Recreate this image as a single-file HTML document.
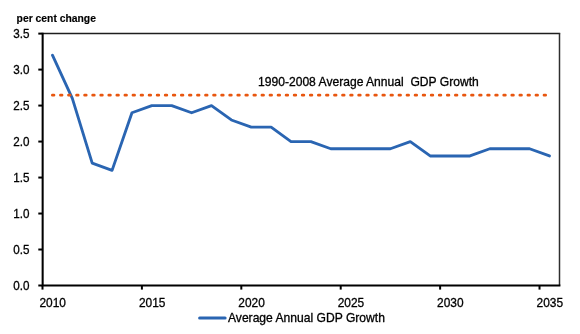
<!DOCTYPE html>
<html><head><meta charset="utf-8"><style>
html,body{margin:0;padding:0;background:#fff;width:580px;height:334px;overflow:hidden}
svg{display:block;will-change:transform}
text{font-family:"Liberation Sans", sans-serif;fill:#000;stroke:#000;stroke-width:0.3px}
</style></head><body>
<svg width="580" height="334" viewBox="0 0 580 334">
<rect width="580" height="334" fill="#fff"/>
<line x1="42.5" y1="33.5" x2="560.2" y2="33.5" stroke="#1e1e1e" stroke-width="1.35"/>
<line x1="559.5" y1="33.2" x2="559.5" y2="285.5" stroke="#2e2e2e" stroke-width="1.5"/>
<line x1="38.3" y1="285.50" x2="42.5" y2="285.50" stroke="#000" stroke-width="2"/>
<line x1="38.3" y1="249.51" x2="42.5" y2="249.51" stroke="#000" stroke-width="2"/>
<line x1="38.3" y1="213.53" x2="42.5" y2="213.53" stroke="#000" stroke-width="2"/>
<line x1="38.3" y1="177.55" x2="42.5" y2="177.55" stroke="#000" stroke-width="2"/>
<line x1="38.3" y1="141.56" x2="42.5" y2="141.56" stroke="#000" stroke-width="2"/>
<line x1="38.3" y1="105.57" x2="42.5" y2="105.57" stroke="#000" stroke-width="2"/>
<line x1="38.3" y1="69.59" x2="42.5" y2="69.59" stroke="#000" stroke-width="2"/>
<line x1="38.3" y1="33.61" x2="42.5" y2="33.61" stroke="#000" stroke-width="2"/>
<line x1="42.50" y1="285.5" x2="42.50" y2="289.6" stroke="#000" stroke-width="2"/>
<line x1="141.90" y1="285.5" x2="141.90" y2="289.6" stroke="#000" stroke-width="2"/>
<line x1="241.31" y1="285.5" x2="241.31" y2="289.6" stroke="#000" stroke-width="2"/>
<line x1="340.71" y1="285.5" x2="340.71" y2="289.6" stroke="#000" stroke-width="2"/>
<line x1="440.12" y1="285.5" x2="440.12" y2="289.6" stroke="#000" stroke-width="2"/>
<line x1="539.52" y1="285.5" x2="539.52" y2="289.6" stroke="#000" stroke-width="2"/>
<path d="M42.65 32.8 V285.5 H560.4" fill="none" stroke="#000" stroke-width="2.05"/>
<polyline points="52.44,55.20 72.32,98.38 92.20,163.15 112.08,170.35 131.96,112.77 151.84,105.57 171.72,105.57 191.61,112.77 211.49,105.57 231.37,119.97 251.25,127.17 271.13,127.17 291.01,141.56 310.89,141.56 330.77,148.76 350.65,148.76 370.53,148.76 390.41,148.76 410.29,141.56 430.17,155.95 450.06,155.95 469.94,155.95 489.82,148.76 509.70,148.76 529.58,148.76 549.46,155.95" fill="none" stroke="#2a65b2" stroke-width="2.85" stroke-linejoin="round" stroke-linecap="round"/>
<line x1="52.37" y1="95.2" x2="549.46" y2="95.2" stroke="#e8560f" stroke-width="2.75" stroke-dasharray="1.6 6.46" stroke-linecap="round"/>
<text transform="translate(29.6 289.80) scale(0.95 1)" text-anchor="end" font-size="12.3">0.0</text>
<text transform="translate(29.6 253.81) scale(0.95 1)" text-anchor="end" font-size="12.3">0.5</text>
<text transform="translate(29.6 217.83) scale(0.95 1)" text-anchor="end" font-size="12.3">1.0</text>
<text transform="translate(29.6 181.85) scale(0.95 1)" text-anchor="end" font-size="12.3">1.5</text>
<text transform="translate(29.6 145.86) scale(0.95 1)" text-anchor="end" font-size="12.3">2.0</text>
<text transform="translate(29.6 109.87) scale(0.95 1)" text-anchor="end" font-size="12.3">2.5</text>
<text transform="translate(29.6 73.89) scale(0.95 1)" text-anchor="end" font-size="12.3">3.0</text>
<text transform="translate(29.6 37.91) scale(0.95 1)" text-anchor="end" font-size="12.3">3.5</text>
<text transform="translate(52.74 306.9) scale(0.97 1)" text-anchor="middle" font-size="12.3">2010</text>
<text transform="translate(152.14 306.9) scale(0.97 1)" text-anchor="middle" font-size="12.3">2015</text>
<text transform="translate(251.55 306.9) scale(0.97 1)" text-anchor="middle" font-size="12.3">2020</text>
<text transform="translate(350.95 306.9) scale(0.97 1)" text-anchor="middle" font-size="12.3">2025</text>
<text transform="translate(450.36 306.9) scale(0.97 1)" text-anchor="middle" font-size="12.3">2030</text>
<text transform="translate(549.76 306.9) scale(0.97 1)" text-anchor="middle" font-size="12.3">2035</text>
<text x="16.6" y="21.6" font-size="10.35" font-weight="bold" style="stroke-width:0.15px">per cent change</text>
<text x="258" y="86.3" font-size="12.1">1990-2008 Average Annual&#160; GDP Growth</text>
<line x1="199.6" y1="318" x2="225.1" y2="318" stroke="#2a65b2" stroke-width="3" stroke-linecap="round"/>
<text x="228" y="321.7" font-size="12.1">Average Annual GDP Growth</text>
</svg>
</body></html>
